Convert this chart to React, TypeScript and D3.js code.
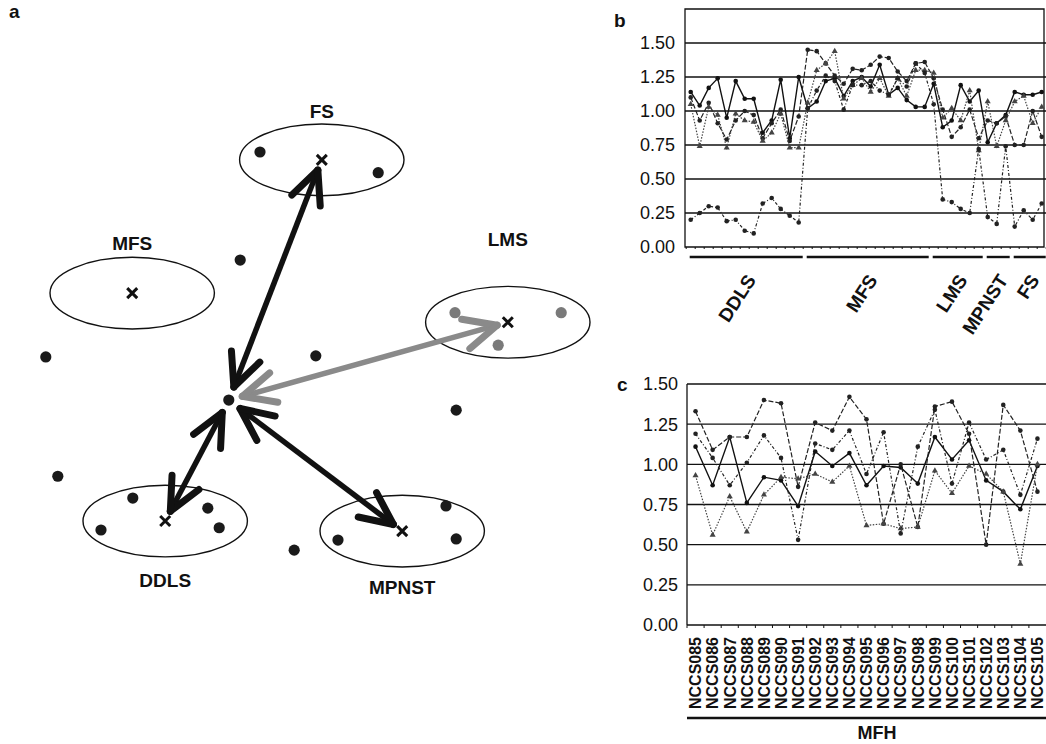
import React, { useEffect, useRef } from 'react';
import * as d3 from 'd3';

// ---- panel a: cluster map (arbitrary map units, 0..10) ----
const clusterNames = ['FS', 'MFS', 'LMS', 'DDLS', 'MPNST'];
const clusterX = [5.03, 1.87, 8.13, 2.42, 6.37];
const clusterY = [7.86, 5.48, 4.96, 1.41, 1.23];
const clusterLabelDy = [-42, -43, -76, 66, 63];
const clusterLinked = [true, false, true, true, true];
const clusterGreyLink = [false, false, true, false, false];

const sampleX = [4.0, 5.97, 7.25, 9.02, 7.97, 1.88, 1.35, 3.13, 3.32, 5.3, 7.1, 7.27, 3.67, 0.43, 4.93, 7.27, 0.63, 4.57];
const sampleY = [8.0, 7.63, 5.13, 5.13, 4.55, 1.82, 1.25, 1.64, 1.29, 1.07, 1.68, 1.09, 6.07, 4.34, 4.36, 3.39, 2.21, 0.89];
const sampleGrey = [false, false, true, true, true, false, false, false, false, false, false, false, false, false, false, false, false, false];

const queryX = 3.48;
const queryY = 3.57;

// ---- panel b: profiles over the training samples ----
const groupNames = ['DDLS', 'MFS', 'LMS', 'MPNST', 'FS'];
const groupSizes = [13, 14, 6, 3, 4];

const profileB1 = [
  1.14, 1.04, 1.17, 1.24, 0.95, 1.22, 1.09, 1.09, 0.84, 0.93, 1.23, 0.8, 1.25,
  1.02, 1.07, 1.22, 1.24, 1.11, 1.22, 1.25, 1.18, 1.34, 1.12, 1.17, 1.08, 1.03, 1.03,
  1.2, 0.88, 0.93, 1.19, 1.07, 1.15, 0.77, 0.91, 0.97, 1.14, 1.12, 1.12, 1.14,
];
const profileB2 = [
  1.1, 0.93, 1.06, 0.91, 0.79, 0.93, 1.0, 0.97, 0.8, 0.91, 1.01, 0.78, 0.96,
  1.45, 1.44, 1.35, 1.26, 1.2, 1.31, 1.3, 1.34, 1.4, 1.39, 1.29, 1.22, 1.35, 1.36,
  1.24, 1.01, 0.81, 0.88, 1.01, 0.8, 0.93, 0.91, 0.96, 0.75, 0.75, 1.0, 0.81,
];
const profileB3 = [
  1.05, 0.74, 1.03, 0.97, 0.73, 0.98, 0.93, 0.92, 0.78, 0.84, 0.98, 0.73, 0.73,
  1.06, 1.3, 1.35, 1.44, 1.09, 1.19, 1.24, 1.14, 1.24, 1.11, 1.24, 1.11, 1.3, 1.3,
  1.28, 0.95, 1.02, 0.93, 1.15, 0.71, 1.07, 0.74, 0.93, 1.07, 1.11, 0.91, 1.03,
];
const profileB4 = [
  0.2, 0.25, 0.3, 0.29, 0.19, 0.2, 0.12, 0.1, 0.32, 0.36, 0.28, 0.23, 0.18,
  1.02, 1.15, 1.26, 1.22, 1.01, 1.19, 1.19, 1.22, 1.15, 1.12, 1.24, 1.18, 1.35, 1.28,
  1.05, 0.35, 0.33, 0.28, 0.25, 0.72, 0.22, 0.17, 0.74, 0.15, 0.27, 0.2, 0.32,
];

// ---- panel c: MFH test samples ----
const mfhSamples = [
  'NCCS085', 'NCCS086', 'NCCS087', 'NCCS088', 'NCCS089', 'NCCS090', 'NCCS091',
  'NCCS092', 'NCCS093', 'NCCS094', 'NCCS095', 'NCCS096', 'NCCS097', 'NCCS098',
  'NCCS099', 'NCCS100', 'NCCS101', 'NCCS102', 'NCCS103', 'NCCS104', 'NCCS105',
];
const profileC1 = [1.33, 1.09, 1.17, 1.17, 1.4, 1.38, 0.86, 1.26, 1.21, 1.42, 1.28, 0.63, 1.0, 0.61, 1.36, 1.39, 1.19, 0.5, 1.37, 1.21, 0.83];
const profileC2 = [1.19, 1.04, 0.87, 1.01, 1.18, 1.04, 0.53, 1.13, 1.09, 1.21, 0.94, 1.2, 0.57, 1.11, 1.34, 0.88, 1.26, 1.03, 1.09, 0.81, 1.16];
const profileC3 = [1.11, 0.87, 1.17, 0.76, 0.92, 0.9, 0.74, 1.08, 0.99, 1.07, 0.87, 0.99, 0.98, 0.88, 1.17, 1.03, 1.15, 0.9, 0.83, 0.72, 0.99];
const profileC4 = [0.93, 0.56, 0.8, 0.58, 0.81, 0.92, 0.91, 0.94, 0.89, 0.99, 0.62, 0.63, 0.6, 0.61, 0.96, 0.82, 0.99, 0.94, 0.83, 0.38, 1.0];

const yTicksB = [0, 0.25, 0.5, 0.75, 1.0, 1.25, 1.5];
const yTicksC = [0, 0.25, 0.5, 0.75, 1.0, 1.25, 1.5];

const FONT = '"Liberation Sans", Arial, Helvetica, sans-serif';

const App = () => {
  const ref = useRef<SVGSVGElement>(null);

  useEffect(() => {
    const svg = d3.select(ref.current);
    svg.selectAll('*').remove();
    svg.append('rect').attr('width', 1046).attr('height', 744).attr('fill', '#fff');

    const letter = (t: string, x: number, y: number) =>
      svg.append('text').attr('x', x).attr('y', y).text(t)
        .attr('font-family', FONT).attr('font-weight', 'bold').attr('font-size', 19).attr('fill', '#111');

    // ================= panel a =================
    letter('a', 9, 18);
    const ax = d3.scaleLinear().domain([0, 10]).range([20, 620]);
    const ay = d3.scaleLinear().domain([0, 10]).range([600, 40]);
    const ga = svg.append('g');
    const rx = ax(1.37) - ax(0);
    const ry = ay(0) - ay(0.64);

    clusterNames.forEach((name, i) => {
      const cx = ax(clusterX[i]);
      const cy = ay(clusterY[i]);
      ga.append('ellipse').attr('cx', cx).attr('cy', cy).attr('rx', rx).attr('ry', ry)
        .attr('fill', 'none').attr('stroke', '#111').attr('stroke-width', 1.4);
      ga.append('text').attr('x', cx).attr('y', cy + clusterLabelDy[i]).text(name)
        .attr('text-anchor', 'middle').attr('font-family', FONT).attr('font-weight', 'bold')
        .attr('font-size', 19).attr('fill', '#111');
    });

    sampleX.forEach((sx, i) => {
      ga.append('circle').attr('cx', ax(sx)).attr('cy', ay(sampleY[i])).attr('r', 5.6)
        .attr('fill', sampleGrey[i] ? '#7a7a7a' : '#1a1a1a');
    });

    // arrows from the query sample to each linked centroid
    const qx = ax(queryX);
    const qy = ay(queryY);
    const chevron = (g: any, tx: number, ty: number, ux: number, uy: number, color: string) => {
      const len = 36;
      const ang = (25 * Math.PI) / 180;
      [ang, -ang].forEach((a) => {
        const bx = -(ux * Math.cos(a) - uy * Math.sin(a));
        const by = -(ux * Math.sin(a) + uy * Math.cos(a));
        g.append('line').attr('x1', tx).attr('y1', ty).attr('x2', tx + bx * len).attr('y2', ty + by * len)
          .attr('stroke', color).attr('stroke-width', 7).attr('stroke-linecap', 'round');
      });
    };
    clusterNames.forEach((_, i) => {
      if (!clusterLinked[i]) return;
      const color = clusterGreyLink[i] ? '#8a8a8a' : '#111';
      const cx = ax(clusterX[i]);
      const cy = ay(clusterY[i]);
      const d = Math.hypot(cx - qx, cy - qy);
      const ux = (cx - qx) / d;
      const uy = (cy - qy) / d;
      const t1x = qx + ux * 14, t1y = qy + uy * 14;
      const t2x = cx - ux * 11, t2y = cy - uy * 11;
      ga.append('line').attr('x1', t1x).attr('y1', t1y).attr('x2', t2x).attr('y2', t2y)
        .attr('stroke', color).attr('stroke-width', 5.5);
      chevron(ga, t2x, t2y, ux, uy, color);
      chevron(ga, t1x, t1y, -ux, -uy, color);
    });

    // centroid crosses and the query sample
    clusterNames.forEach((_, i) => {
      const cx = ax(clusterX[i]);
      const cy = ay(clusterY[i]);
      ga.append('path').attr('d', `M${cx - 5},${cy - 5}L${cx + 5},${cy + 5}M${cx + 5},${cy - 5}L${cx - 5},${cy + 5}`)
        .attr('stroke', '#111').attr('stroke-width', 3);
    });
    ga.append('circle').attr('cx', qx).attr('cy', qy).attr('r', 5.6).attr('fill', '#1a1a1a');

    // ================= shared drawing of a profile panel =================
    const styles = [
      { dash: null, color: '#111', w: 1.4, mark: 'circle' },
      { dash: '5,2', color: '#222', w: 1.2, mark: 'circle' },
      { dash: '1.5,1.5', color: '#444', w: 1.2, mark: 'triangle' },
      { dash: '3,2,1,2', color: '#222', w: 1.2, mark: 'circle' },
    ];
    const drawProfiles = (g: any, series: number[][], xf: (i: number) => number, yf: any) => {
      series.forEach((vals, si) => {
        const st = styles[si];
        const line = d3.line<number>().x((_, i) => xf(i)).y((v) => yf(v));
        g.append('path').attr('d', line(vals)).attr('fill', 'none').attr('stroke', st.color)
          .attr('stroke-width', st.w).attr('stroke-dasharray', st.dash);
        vals.forEach((v, i) => {
          if (st.mark === 'circle') {
            g.append('circle').attr('cx', xf(i)).attr('cy', yf(v)).attr('r', 2.3).attr('fill', st.color);
          } else {
            g.append('path').attr('d', d3.symbol(d3.symbolTriangle, 16)())
              .attr('transform', `translate(${xf(i)},${yf(v)})`).attr('fill', st.color);
          }
        });
      });
    };

    // ================= panel b =================
    letter('b', 614, 27);
    const nB = profileB1.length;
    const bxScale = d3.scalePoint<number>().domain(d3.range(nB)).range([690.7, 1041.7]);
    const bx = (i: number) => bxScale(i) as number;
    const by = d3.scaleLinear().domain([0, 1.75]).range([247, 9]);
    const gb = svg.append('g');
    const bLeft = 685;
    const bRight = 1044;

    yTicksB.forEach((t) => {
      if (t > 0) {
        gb.append('line').attr('x1', bLeft).attr('x2', bRight + 2).attr('y1', by(t)).attr('y2', by(t))
          .attr('stroke', '#111').attr('stroke-width', 1.3);
      }
      gb.append('text').attr('x', 675).attr('y', by(t)).attr('dy', '0.36em').attr('text-anchor', 'end')
        .text(t.toFixed(2)).attr('font-family', FONT).attr('font-size', 18).attr('fill', '#111');
    });
    gb.append('path').attr('d', `M${bLeft},${by(0)}V${by(1.75)}H${bRight}V${by(0)}Z`)
      .attr('fill', 'none').attr('stroke', '#111').attr('stroke-width', 1.3);
    d3.range(nB + 1).forEach((i) => {
      const x = bx(0) - 4.5 + i * bxScale.step();
      gb.append('line').attr('x1', x).attr('x2', x).attr('y1', by(0)).attr('y2', by(0) + 2)
        .attr('stroke', '#111').attr('stroke-width', 1);
    });

    drawProfiles(gb, [profileB1, profileB2, profileB3, profileB4], bx, by);

    let start = 0;
    groupNames.forEach((name, gi) => {
      const first = start;
      const last = start + groupSizes[gi] - 1;
      start += groupSizes[gi];
      gb.append('line').attr('x1', bx(first) - 1).attr('x2', bx(last) + 4).attr('y1', 257).attr('y2', 257)
        .attr('stroke', '#111').attr('stroke-width', 2.4);
      const mid = (bx(first) + bx(last)) / 2;
      gb.append('text').attr('transform', `translate(${mid + 12},${280}) rotate(-57)`)
        .attr('text-anchor', 'end').text(name).attr('font-family', FONT).attr('font-weight', 'bold')
        .attr('font-size', 19).attr('fill', '#111');
    });

    // ================= panel c =================
    letter('c', 617, 391);
    const cxBand = d3.scaleBand<string>().domain(mfhSamples).range([687, 1046]);
    const cx = (i: number) => (cxBand(mfhSamples[i]) as number) + cxBand.bandwidth() / 2;
    const cy = d3.scaleLinear().domain([0, 1.5]).range([625, 384]);
    const gc = svg.append('g');
    const cLeft = 687;

    yTicksC.forEach((t) => {
      gc.append('line').attr('x1', cLeft).attr('x2', 1046).attr('y1', cy(t)).attr('y2', cy(t))
        .attr('stroke', '#111').attr('stroke-width', 1.3);
      gc.append('text').attr('x', 678).attr('y', cy(t)).attr('dy', '0.36em').attr('text-anchor', 'end')
        .text(t.toFixed(2)).attr('font-family', FONT).attr('font-size', 18).attr('fill', '#111');
    });
    gc.append('line').attr('x1', cLeft).attr('x2', cLeft).attr('y1', cy(0)).attr('y2', cy(1.5))
      .attr('stroke', '#111').attr('stroke-width', 1.3);
    mfhSamples.forEach((s, i) => {
      const x0 = cxBand(s) as number;
      gc.append('line').attr('x1', x0).attr('x2', x0).attr('y1', cy(0)).attr('y2', cy(0) + 3)
        .attr('stroke', '#111').attr('stroke-width', 1);
      gc.append('text').attr('transform', `translate(${cx(i)},637) rotate(-90)`).attr('dy', '0.36em')
        .attr('text-anchor', 'end').text(s).attr('font-family', FONT).attr('font-weight', 'bold')
        .attr('font-size', 16).attr('fill', '#111');
    });

    drawProfiles(gc, [profileC3, profileC1, profileC4, profileC2], cx, cy);

    gc.append('line').attr('x1', cLeft).attr('x2', 1046).attr('y1', 718).attr('y2', 718)
      .attr('stroke', '#111').attr('stroke-width', 2.4);
    gc.append('text').attr('x', 877).attr('y', 739).attr('text-anchor', 'middle').text('MFH')
      .attr('font-family', FONT).attr('font-weight', 'bold').attr('font-size', 18).attr('fill', '#111');
  }, []);

  return (
    <svg ref={ref} width={1046} height={744}
      style={{ position: 'absolute', left: 0, top: 0, display: 'block' }} />
  );
};

export default App;
